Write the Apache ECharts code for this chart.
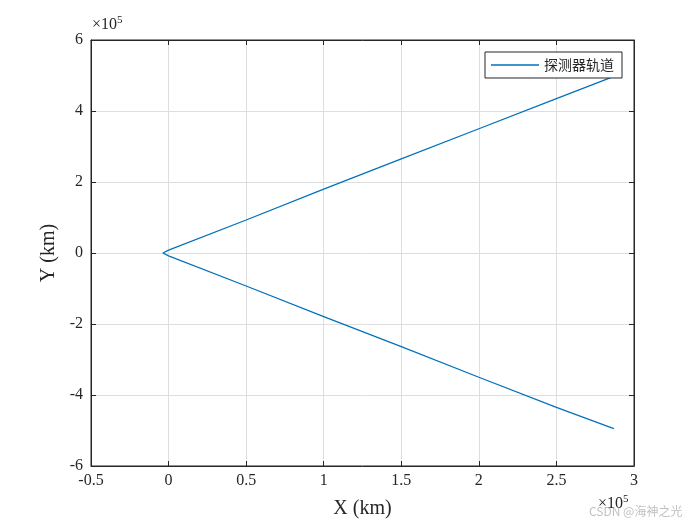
<!DOCTYPE html>
<html>
<head>
<meta charset="utf-8">
<script src="https://cdn.jsdelivr.net/npm/echarts@6/dist/echarts.min.js"></script>
<style>
  html, body { margin: 0; padding: 0; background: #fff; }
  #orbit_chart { width: 700px; height: 525px; }
</style>
</head>
<body>
<div id="orbit_chart"></div>
<script>
// probe trajectory (km)
var orbitX = [287000, 250000, 200000, 150000, 100000, 50000, 0, -3700, 0, 50000, 100000, 150000, 200000, 250000, 285000];
var orbitY = [-495000, -435000, -350000, -264000, -179000, -93000, -8000, 0, 8000, 93000, 180000, 265000, 350000, 435000, 494000];
var seriesName = '探测器轨道';
var xTicks = [-50000, 0, 50000, 100000, 150000, 200000, 250000, 300000];
var yTicks = [-600000, -400000, -200000, 0, 200000, 400000, 600000];

var serif = '"Liberation Serif", "DejaVu Serif", serif';
var axisColor = '#262626';

var points = [];
for (var i = 0; i < orbitX.length; i++) {
    points.push([orbitX[i], orbitY[i]]);
}

function fmt(v) {
    return String(Math.round(v / 1e4) / 10);
}

var chart = echarts.init(document.getElementById('orbit_chart'));

var option = {
    backgroundColor: '#fff',
    animation: false,
    grid: {
        left: 91, right: 66, top: 40, bottom: 59,
        show: true,
        borderColor: axisColor,
        borderWidth: 1
    },
    legend: {
        data: [{ name: seriesName, icon: 'rect' }],
        right: 78,
        top: 52,
        itemWidth: 48,
        itemHeight: 1.5,
        itemGap: 8,
        padding: [6, 8, 6, 6],
        borderColor: axisColor,
        borderWidth: 1,
        borderRadius: 0,
        backgroundColor: '#fff',
        textStyle: {
            fontFamily: '"Noto Sans CJK SC", sans-serif',
            fontSize: 14,
            color: '#262626'
        }
    },
    xAxis: [
        {
            type: 'value',
            min: xTicks[0],
            max: xTicks[xTicks.length - 1],
            interval: 50000,
            name: 'X (km)',
            nameLocation: 'middle',
            nameGap: 33,
            nameTextStyle: { fontFamily: serif, fontSize: 20, color: axisColor },
            axisLine: { onZero: false, lineStyle: { color: axisColor } },
            axisTick: { inside: true, length: 5, lineStyle: { color: axisColor } },
            axisLabel: { formatter: fmt, fontFamily: serif, fontSize: 16, color: axisColor, margin: 7 },
            splitLine: { show: true, lineStyle: { color: '#dedede' } }
        },
        {
            type: 'value',
            position: 'top',
            min: xTicks[0],
            max: xTicks[xTicks.length - 1],
            interval: 50000,
            axisLine: { onZero: false, lineStyle: { color: axisColor } },
            axisTick: { inside: true, length: 5, lineStyle: { color: axisColor } },
            axisLabel: { show: false },
            splitLine: { show: false }
        }
    ],
    yAxis: [
        {
            type: 'value',
            min: yTicks[0],
            max: yTicks[yTicks.length - 1],
            interval: 200000,
            name: 'Y (km)',
            nameLocation: 'middle',
            nameGap: 26,
            nameTextStyle: { fontFamily: serif, fontSize: 20, color: axisColor },
            axisLine: { onZero: false, lineStyle: { color: axisColor } },
            axisTick: { inside: true, length: 5, lineStyle: { color: axisColor } },
            axisLabel: { formatter: fmt, fontFamily: serif, fontSize: 16, color: axisColor, margin: 8 },
            splitLine: { show: true, lineStyle: { color: '#dedede' } }
        },
        {
            type: 'value',
            position: 'right',
            min: yTicks[0],
            max: yTicks[yTicks.length - 1],
            interval: 200000,
            axisLine: { onZero: false, lineStyle: { color: axisColor } },
            axisTick: { inside: true, length: 5, lineStyle: { color: axisColor } },
            axisLabel: { show: false },
            splitLine: { show: false }
        }
    ],
    graphic: [
        {
            type: 'text', left: 92, top: 15,
            style: {
                text: '{a|×10}{b|5}',
                rich: {
                    a: { fontFamily: serif, fontSize: 16, fill: axisColor },
                    b: { fontFamily: serif, fontSize: 11, fill: axisColor, verticalAlign: 'top', padding: [0, 0, 8, 0] }
                }
            }
        },
        {
            type: 'text', left: 598, top: 494,
            style: {
                text: '{a|×10}{b|5}',
                rich: {
                    a: { fontFamily: serif, fontSize: 16, fill: axisColor },
                    b: { fontFamily: serif, fontSize: 11, fill: axisColor, verticalAlign: 'top', padding: [0, 0, 8, 0] }
                }
            }
        },
        {
            type: 'text', left: 589, top: 505,
            style: {
                text: 'CSDN @海神之光',
                fontFamily: '"Noto Sans CJK SC", sans-serif',
                fontSize: 12,
                fill: 'rgba(150,150,150,0.6)'
            }
        }
    ],
    series: [
        {
            name: seriesName,
            type: 'line',
            symbol: 'none',
            data: points,
            lineStyle: { color: '#0072BD', width: 1.3 },
            itemStyle: { color: '#0072BD' }
        }
    ]
};

chart.setOption(option);
</script>
</body>
</html>
